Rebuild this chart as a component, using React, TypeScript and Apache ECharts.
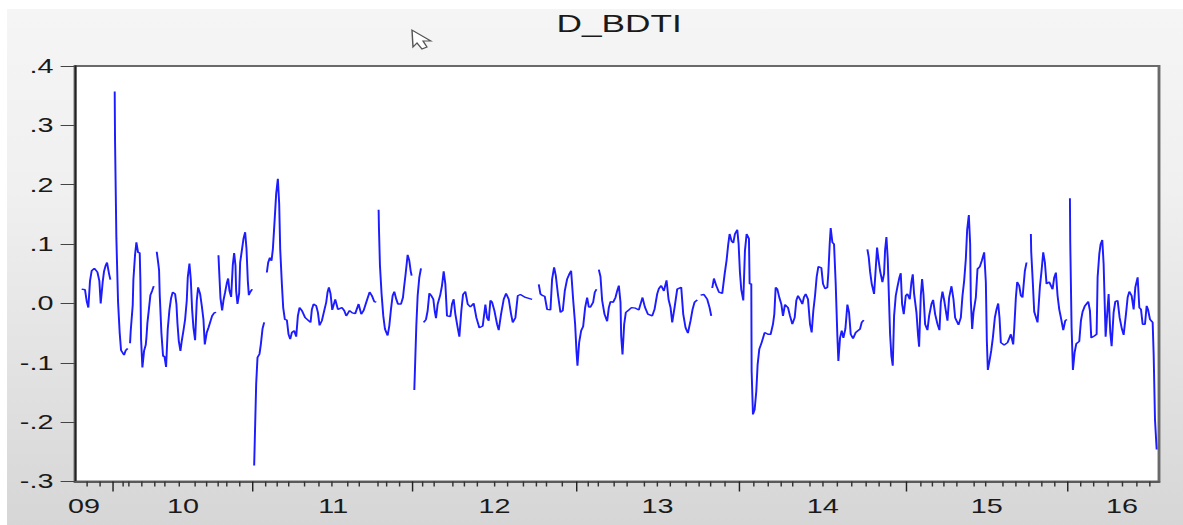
import React, { useEffect, useRef } from "react";
import * as echarts from "echarts";

// Horizontal stretch of the whole picture: the reference is a widened screenshot.
const STRETCH = 1.44;
const PAGE_W = 1183;
const PAGE_H = 525;

const TITLE = "D_BDTI";

// Observation positions are in axis units; each block holds [position, value], null = missing value.
type Obs = [number, number | null];

const blockABase = -45;
const blockA: Obs[] = [
  [65,.024],[75,.023],[80,.004],[85,-.007],[90,.038],[95,.055],[103,.059],[112,.053],[118,.038],[122,0],[128,.036],[132,.054],[137,.064],[141,.069],[147,.05],[151,.04],[157,null],
  [164,.357],[165,.275],[169,.11],[174,.003],[179,-.05],[183,-.079],[192,-.087],[197,-.079],[203,-.076],[206,null],
  [210,-.067],[212,-.046],[218,-.003],[220,.04],[225,.082],[229,.103],[234,.086],[239,.085],[241,.038],[243,-.06],[247,-.108],[252,-.08],[257,-.07],[259,-.058],[262,-.033],[267,-.007],[271,.014],[276,.021],[281,.029],[285,null],
  [290,.087],[294,.07],[297,.056],[299,.014],[304,-.05],[309,-.089],[313,-.089],[318,-.107],[323,-.043],[328,-.011],[333,.009],[338,.019],[345,.016],[349,-.001],[352,-.033],[356,-.063],[361,-.08],[365,-.063],[370,-.046],[375,-.027],[380,.005],[383,.044],[388,.067],[392,.041],[396,-.01],[400,-.041],[405,-.062],[410,.005],[414,.027],[420,.016],[425,-.004],[430,-.027],[434,-.069],[440,-.049],[445,-.041],[450,-.032],[456,-.021],[462,-.016],[468,-.015],[471,null],
  [475,.081],[477,.056],[481,.009],[486,-.012],[490,.005],[495,.019],[500,.034],[504,.042],[508,.021],[513,.011],[518,.065],[522,.085],[526,.064],[528,.021],[532,-.001],[537,.017],[540,.069],[545,.089],[550,.109],[555,.12],[559,.092],[563,.038],[566,.014],[570,.019],[576,.024],[579,null],
  [582,-.273],[584,-.227],[588,-.136],[592,-.091],[598,-.085],[602,-.069],[607,-.043],[612,-.032],[616,null],
  [620,.052],[624,.069],[629,.077],[634,.072],[638,.091],[643,.137],[648,.185],[653,.21],[657,.168],
];

const blockBBase = 585;
const blockB: Obs[] = [
  [30,.092],[35,.033],[39,-.007],[44,-.027],[50,-.028],[55,-.052],[60,-.06],[65,-.049],[72,-.046],[78,-.056],[83,-.021],[88,-.007],[95,-.012],[105,-.024],[115,-.029],[121,-.032],[125,-.01],[130,-.001],[138,-.004],[143,-.015],[148,-.037],[155,-.029],[162,-.012],[168,.002],[172,.019],[176,.027],[181,.016],[186,-.011],[195,.007],[203,-.01],[215,-.007],[222,-.012],[228,-.021],[238,-.012],[246,-.016],[255,-.017],[265,-.001],[273,-.018],[280,-.012],[288,.002],[298,.019],[305,.013],[312,.003],[318,.002],[321,null],
  [325,.158],[326,.127],[329,.064],[334,.015],[339,-.021],[344,-.043],[352,-.054],[357,-.038],[362,-.01],[367,.013],[372,.02],[378,.007],[383,-.001],[392,-.001],[398,.01],[401,.026],[406,.05],[412,.082],[417,.072],[421,.055],[424,.047],[428,null],
  [432,-.146],[434,-.11],[438,-.038],[442,.013],[447,.044],[452,.059],[456,null],
  [460,-.032],[467,-.027],[472,-.012],[477,.017],[483,.013],[489,.007],[493,-.012],[497,-.025],[502,-.001],[510,.015],[515,.03],[520,.054],[525,.033],[530,-.021],[540,-.022],[545,-.001],[550,.007],[555,-.018],[562,-.041],[567,-.056],[573,-.012],[578,.015],[585,.02],[592,-.001],[600,-.006],[610,0],[618,-.024],[627,-.041],[637,-.038],[645,-.002],[650,-.024],[655,-.029],[660,.005],[665,.002],[672,-.012],[680,-.035],[685,-.045],[692,-.018],[700,.007],[707,.017],[715,.007],[722,-.018],[727,-.032],[735,-.024],[742,.013],[750,.015],[765,.01],[785,.007],[795,null],
];

const blockCBase = 1365;
const blockC: Obs[] = [
  [25,.032],[30,.016],[37,.013],[43,.012],[50,-.01],[60,-.011],[65,.041],[71,.061],[76,.047],[83,.013],[90,-.015],[97,-.012],[103,.021],[110,.041],[117,.05],[122,.055],[128,.007],[134,-.035],[138,-.08],[141,-.105],[146,-.066],[152,-.046],[158,-.039],[164,-.007],[170,.01],[175,-.006],[180,-.006],[188,.002],[193,.019],[198,.024],[201,null],
  [205,.057],[210,.045],[215,.005],[222,-.018],[230,-.03],[235,-.007],[240,.003],[248,.002],[255,.01],[260,.021],[265,.03],[270,.002],[272,-.055],[276,-.086],[281,-.035],[286,-.015],[295,-.011],[303,-.007],[315,-.008],[325,-.011],[330,-.001],[336,.01],[343,-.006],[352,-.018],[365,-.021],[372,-.01],[380,.016],[385,.025],[392,.03],[400,.021],[408,.039],[414,.007],[420,-.007],[425,-.032],[432,-.007],[440,.024],[452,.027],[458,-.018],[465,-.041],[472,-.05],[480,-.029],[486,-.01],[492,.002],[500,.006],[505,null],
  [510,.014],[520,.015],[530,.007],[537,-.007],[542,-.021],[544,null],
  [545,.026],[550,.042],[557,.03],[565,.019],[575,.017],[582,.049],[588,.073],[593,.1],[597,.117],[603,.105],[608,.102],[613,.117],[620,.124],[624,.1],[628,.052],[632,.023],[638,.005],[643,.089],[648,.117],[655,.109],[657,.033],[662,.033],[663,-.114],[667,-.187],[672,-.179],[677,-.148],[681,-.103],[686,-.077],[693,-.066],[702,-.049],[712,-.052],[720,-.052],[727,-.035],[731,-.018],[735,.027],[740,.024],[746,.01],[752,-.001],[757,-.021],[763,-.002],[772,-.007],[778,-.021],[785,-.035],[792,-.024],[797,.005],[802,.013],
];

const blockDBase = 2175;
const blockD: Obs[] = [
  [0,.005],[5,-.001],[10,.011],[15,.016],[22,.007],[28,-.035],[33,-.049],[38,-.012],[43,.013],[48,.045],[53,.062],[62,.06],[67,.033],[73,.025],[80,.027],[83,.052],[87,.1],[90,.127],[95,.103],[100,.1],[105,.033],[110,-.055],[113,-.097],[118,-.058],[123,-.046],[128,-.058],[134,-.043],[140,-.002],[145,-.015],[150,-.052],[157,-.059],[165,-.049],[178,-.043],[183,-.032],[189,-.028],[194,null],
  [200,.091],[204,.078],[208,.054],[213,.033],[220,.016],[224,.05],[229,.094],[233,.075],[238,.055],[245,.036],[250,.05],[253,.09],[257,.112],[261,.075],[265,.002],[268,-.052],[272,-.089],[276,-.105],[280,-.021],[285,.013],[290,.028],[296,.044],[300,.051],[304,-.001],[309,-.018],[315,.013],[320,.016],[327,.007],[332,.036],[336,.049],[340,.016],[347,-.015],[352,-.055],[355,-.073],[360,.013],[364,.041],[368,.016],[373,-.035],[380,-.045],[385,-.021],[392,-.001],[397,.006],[403,-.018],[410,-.035],[416,-.045],[420,.002],[425,.02],[430,.006],[435,-.012],[440,-.029],[445,.01],[452,.029],[458,.007],[463,-.024],[473,-.036],[480,-.024],[485,.013],[490,.038],[495,.075],[499,.124],[504,.149],[508,.1],[510,.005],[514,-.043],[518,-.015],[525,.01],[530,.058],[537,.062],[543,.072],[550,.086],[555,.036],[558,-.063],[561,-.112],[566,-.097],[571,-.08],[576,-.058],[582,-.024],[587,-.01],[592,0],[596,-.024],[600,-.066],[610,-.07],[620,-.066],[630,-.052],[637,-.069],[640,-.043],[645,.01],[649,.036],[655,.03],[660,.013],[665,.01],[672,.055],[677,.069],[683,null],
  [690,.117],[691,.087],[696,.033],[700,-.014],[710,-.032],[717,.028],[722,.055],[727,.086],[732,.069],[737,.033],[745,.036],[755,.024],[760,.044],[765,.052],[770,.013],[775,-.01],[780,-.024],[787,-.045],[793,-.029],[798,-.027],[803,null],
  [807,.177],[808,.103],[812,-.041],[816,-.112],[821,-.083],[826,-.068],[835,-.064],[840,-.029],[845,-.014],[852,-.004],[862,.003],[867,-.012],[871,-.058],[880,-.055],[887,-.052],[890,.044],[895,.083],[899,.1],[904,.107],[908,.067],[912,-.015],[914,-.056],[920,-.007],[923,.016],[928,-.049],[932,-.072],[938,-.015],[943,.003],[950,.005],[956,-.024],[962,-.041],[968,-.053],[975,-.018],[980,.01],[985,.02],[992,.013],[998,-.01],[1003,.027],[1010,.044],[1015,-.007],[1020,-.01],[1025,-.035],[1032,-.035],[1037,-.004],[1041,-.01],[1047,-.027],[1055,-.032],[1058,-.086],[1062,-.196],[1067,-.246],
];

const AXIS_MAX = 3249;
const Y_MIN = -0.3;
const Y_MAX = 0.4;
const Y_STEP = 0.1;

const minorTicks = [35,73,142,160,198,240,268,310,357,392,427,455,492,570,603,641,687,728,767,817,853,905,933,971,1040,1077,1130,1165,1207,1255,1297,1343,1380,1413,1459,1537,1567,1617,1655,1705,1743,1785,1831,1868,1902,1948,2035,2075,2115,2152,2203,2242,2283,2327,2371,2408,2445,2533,2567,2604,2641,2692,2729,2779,2817,2856,2896,2934,3014,3051,3094,3139,3181,3219];
const majorTicks = [115,533,1012,1502,1990,2489,2976];
const yearLabels = ["09","10","11","12","13","14","15","16"];
const yearLabelPositions = [27,324,774,1257,1746,2241,2733,3138];

const cursorOutline = [[412,30],[413,47],[417,43],[422,49],[427,47],[423,41],[431,41]];

const blocks: [number, Obs[]][] = [[blockABase, blockA],[blockBBase, blockB],[blockCBase, blockC],[blockDBase, blockD]];
const lineData = blocks.flatMap(([base, rows]) => rows.map(([p, v]) => [p + base, v]));

const FONT = "'Liberation Sans', Arial, sans-serif";
const TEXT = "#1a1a1a";

export default function App() {
  const ref = useRef<HTMLDivElement>(null);
  useEffect(() => {
    if (!ref.current) return;
    const chart = echarts.init(ref.current, undefined, { renderer: "svg" });
    const gridLeft = 75 / STRETCH;
    const gridWidth = 1084 / STRETCH;
    const baseX = {
      type: "value" as const, min: 0, max: AXIS_MAX, position: "bottom" as const,
      splitLine: { show: false }, gridIndex: 0,
    };
    chart.setOption({
      animation: false,
      backgroundColor: "transparent",
      title: {
        text: TITLE, left: 612 / STRETCH, top: 6, textAlign: "center",
        textStyle: { fontFamily: FONT, fontSize: 24.5, fontWeight: "normal", color: TEXT },
      },
      grid: {
        left: gridLeft, width: gridWidth, top: 66, height: 415.5,
        show: true, backgroundColor: "#ffffff", borderColor: "#6a6a6a", borderWidth: 2,
      },
      xAxis: [
        {
          ...baseX,
          axisLine: { show: true, onZero: false, lineStyle: { color: "#5a5a5a", width: 2 } },
          axisTick: { show: true, customValues: minorTicks, length: 5, lineStyle: { color: "#333", width: 1 } },
          axisLabel: { show: false },
        },
        {
          ...baseX,
          axisLine: { show: false, onZero: false },
          axisTick: { show: true, customValues: majorTicks, length: 10, lineStyle: { color: "#222", width: 1 } },
          axisLabel: {
            show: true, customValues: yearLabelPositions, margin: 15, hideOverlap: false,
            fontFamily: FONT, fontSize: 20, color: TEXT,
            formatter: (v: number) => yearLabels[yearLabelPositions.indexOf(v)] ?? "",
          },
        },
      ],
      yAxis: {
        type: "value", min: Y_MIN, max: Y_MAX, interval: Y_STEP,
        splitLine: { show: false },
        axisLine: { show: true, onZero: false, lineStyle: { color: "#222", width: 1.3 } },
        axisTick: { show: true, length: 10, lineStyle: { color: "#444", width: 1 } },
        axisLabel: {
          margin: 15, fontFamily: FONT, fontSize: 20, color: TEXT,
          formatter: (v: number) => v.toFixed(1).replace("0.", "."),
        },
      },
      series: [
        {
          type: "line", xAxisIndex: 0, yAxisIndex: 0, data: lineData,
          showSymbol: false, symbol: "none", connectNulls: false, clip: false,
          lineStyle: { color: "#1c1cff", width: 1.35 },
        },
      ],
      graphic: [
        {
          type: "polygon",
          shape: { points: cursorOutline.map(([x, y]) => [x / STRETCH, y]) },
          style: { fill: "#ffffff", stroke: "#555555", lineWidth: 1 },
        },
      ],
    });
    return () => chart.dispose();
  }, []);

  return (
    <div style={{ position: "fixed", left: 0, top: 0, width: PAGE_W, height: PAGE_H, overflow: "hidden", background: "#ffffff" }}>
      <div style={{ position: "absolute", left: 7, top: 9, right: 0, bottom: 0, background: "linear-gradient(180deg,#f5f5f5 0%,#f0f0f0 35%,#d6d6d6 100%)" }} />
      <div
        ref={ref}
        style={{
          position: "absolute", left: 0, top: 0,
          width: PAGE_W / STRETCH, height: PAGE_H,
          transform: `scaleX(${STRETCH})`, transformOrigin: "left top",
        }}
      />
    </div>
  );
}
